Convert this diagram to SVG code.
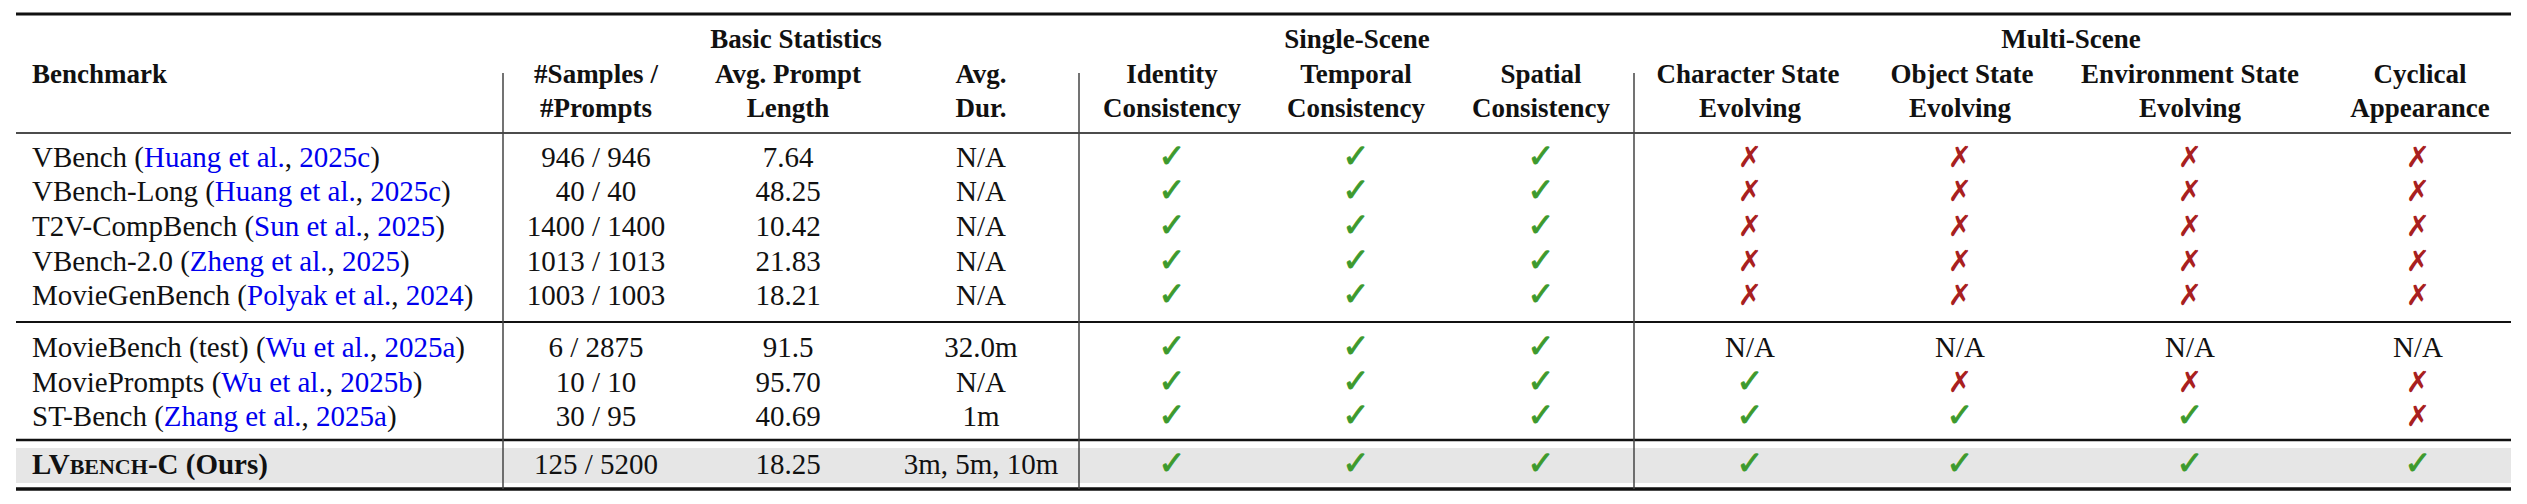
<svg xmlns="http://www.w3.org/2000/svg" width="2527" height="504" viewBox="0 0 2527 504">
<style>
text{font-family:"Liberation Serif","DejaVu Serif",serif;font-size:29px;fill:#111}
.b{font-weight:bold}
.h{font-weight:bold;font-size:27px}
.c{text-anchor:middle}
.l{fill:#0000ee}
.y{font-family:"DejaVu Sans",sans-serif;font-size:32px;font-weight:bold;fill:#3d9a2d;text-anchor:middle;stroke:#3d9a2d;stroke-width:1}
.n{font-family:"DejaVu Sans",sans-serif;font-size:29px;fill:#a82020;text-anchor:middle}
.r{stroke:#111}
.v{stroke:#444;stroke-width:1.5}
</style>
<rect x="16" y="448" width="2495" height="35" fill="#e6e6e6"/>
<g id="rules">
<line class="r" x1="16" y1="14" x2="2511" y2="14" stroke-width="3"/>
<line class="r" x1="16" y1="133" x2="2511" y2="133" stroke-width="1.5"/>
<line class="r" x1="16" y1="322" x2="2511" y2="322" stroke-width="2"/>
<line class="r" x1="16" y1="440" x2="2511" y2="440" stroke-width="2.5"/>
<line class="r" x1="16" y1="489" x2="2511" y2="489" stroke-width="3.5"/>
<line class="v" x1="503" y1="73" x2="503" y2="489"/>
<line class="v" x1="1079" y1="73" x2="1079" y2="489"/>
<line class="v" x1="1634" y1="73" x2="1634" y2="489"/>
</g>
<g id="header">
<text class="h c" x="796" y="48">Basic Statistics</text>
<text class="h c" x="1357" y="48">Single-Scene</text>
<text class="h c" x="2071" y="48">Multi-Scene</text>
<text class="h" x="32" y="83">Benchmark</text>
<text class="h c" x="596" y="83">#Samples /</text><text class="h c" x="596" y="117">#Prompts</text>
<text class="h c" x="788" y="83">Avg. Prompt</text><text class="h c" x="788" y="117">Length</text>
<text class="h c" x="981" y="83">Avg.</text><text class="h c" x="981" y="117">Dur.</text>
<text class="h c" x="1172" y="83">Identity</text><text class="h c" x="1172" y="117">Consistency</text>
<text class="h c" x="1356" y="83">Temporal</text><text class="h c" x="1356" y="117">Consistency</text>
<text class="h c" x="1541" y="83">Spatial</text><text class="h c" x="1541" y="117">Consistency</text>
<text class="h c" x="1748" y="83">Character State</text><text class="h c" x="1750" y="117">Evolving</text>
<text class="h c" x="1962" y="83">Object State</text><text class="h c" x="1960" y="117">Evolving</text>
<text class="h c" x="2190" y="83">Environment State</text><text class="h c" x="2190" y="117">Evolving</text>
<text class="h c" x="2420" y="83">Cyclical</text><text class="h c" x="2420" y="117">Appearance</text>
</g>
<g id="names">
<text x="32" y="167">VBench (<tspan class="l">Huang et al.</tspan>, <tspan class="l">2025c</tspan>)</text>
<text x="32" y="201">VBench-Long (<tspan class="l">Huang et al.</tspan>, <tspan class="l">2025c</tspan>)</text>
<text x="32" y="236">T2V-CompBench (<tspan class="l">Sun et al.</tspan>, <tspan class="l">2025</tspan>)</text>
<text x="32" y="271">VBench-2.0 (<tspan class="l">Zheng et al.</tspan>, <tspan class="l">2025</tspan>)</text>
<text x="32" y="305">MovieGenBench (<tspan class="l">Polyak et al.</tspan>, <tspan class="l">2024</tspan>)</text>
<text x="32" y="357">MovieBench (test) (<tspan class="l">Wu et al.</tspan>, <tspan class="l">2025a</tspan>)</text>
<text x="32" y="392">MoviePrompts (<tspan class="l">Wu et al.</tspan>, <tspan class="l">2025b</tspan>)</text>
<text x="32" y="426">ST-Bench (<tspan class="l">Zhang et al.</tspan>, <tspan class="l">2025a</tspan>)</text>
<text class="b" x="32" y="474">LV<tspan font-size="22">BENCH</tspan>-C (Ours)</text>
</g>
<g id="stats">
<text class="c" x="596" y="167">946 / 946</text><text class="c" x="788" y="167">7.64</text><text class="c" x="981" y="167">N/A</text>
<text class="c" x="596" y="201">40 / 40</text><text class="c" x="788" y="201">48.25</text><text class="c" x="981" y="201">N/A</text>
<text class="c" x="596" y="236">1400 / 1400</text><text class="c" x="788" y="236">10.42</text><text class="c" x="981" y="236">N/A</text>
<text class="c" x="596" y="271">1013 / 1013</text><text class="c" x="788" y="271">21.83</text><text class="c" x="981" y="271">N/A</text>
<text class="c" x="596" y="305">1003 / 1003</text><text class="c" x="788" y="305">18.21</text><text class="c" x="981" y="305">N/A</text>
<text class="c" x="596" y="357">6 / 2875</text><text class="c" x="788" y="357">91.5</text><text class="c" x="981" y="357">32.0m</text>
<text class="c" x="596" y="392">10 / 10</text><text class="c" x="788" y="392">95.70</text><text class="c" x="981" y="392">N/A</text>
<text class="c" x="596" y="426">30 / 95</text><text class="c" x="788" y="426">40.69</text><text class="c" x="981" y="426">1m</text>
<text class="c" x="596" y="474">125 / 5200</text><text class="c" x="788" y="474">18.25</text><text class="c" x="981" y="474">3m, 5m, 10m</text>
</g>
<g id="single">
<text class="y" x="1172" y="167">✓</text><text class="y" x="1356" y="167">✓</text><text class="y" x="1541" y="167">✓</text>
<text class="y" x="1172" y="201">✓</text><text class="y" x="1356" y="201">✓</text><text class="y" x="1541" y="201">✓</text>
<text class="y" x="1172" y="236">✓</text><text class="y" x="1356" y="236">✓</text><text class="y" x="1541" y="236">✓</text>
<text class="y" x="1172" y="271">✓</text><text class="y" x="1356" y="271">✓</text><text class="y" x="1541" y="271">✓</text>
<text class="y" x="1172" y="305">✓</text><text class="y" x="1356" y="305">✓</text><text class="y" x="1541" y="305">✓</text>
<text class="y" x="1172" y="357">✓</text><text class="y" x="1356" y="357">✓</text><text class="y" x="1541" y="357">✓</text>
<text class="y" x="1172" y="392">✓</text><text class="y" x="1356" y="392">✓</text><text class="y" x="1541" y="392">✓</text>
<text class="y" x="1172" y="426">✓</text><text class="y" x="1356" y="426">✓</text><text class="y" x="1541" y="426">✓</text>
<text class="y" x="1172" y="474">✓</text><text class="y" x="1356" y="474">✓</text><text class="y" x="1541" y="474">✓</text>
</g>
<g id="multi">
<text class="n" x="1750" y="167">✗</text><text class="n" x="1960" y="167">✗</text><text class="n" x="2190" y="167">✗</text><text class="n" x="2418" y="167">✗</text>
<text class="n" x="1750" y="201">✗</text><text class="n" x="1960" y="201">✗</text><text class="n" x="2190" y="201">✗</text><text class="n" x="2418" y="201">✗</text>
<text class="n" x="1750" y="236">✗</text><text class="n" x="1960" y="236">✗</text><text class="n" x="2190" y="236">✗</text><text class="n" x="2418" y="236">✗</text>
<text class="n" x="1750" y="271">✗</text><text class="n" x="1960" y="271">✗</text><text class="n" x="2190" y="271">✗</text><text class="n" x="2418" y="271">✗</text>
<text class="n" x="1750" y="305">✗</text><text class="n" x="1960" y="305">✗</text><text class="n" x="2190" y="305">✗</text><text class="n" x="2418" y="305">✗</text>
<text class="c" x="1750" y="357">N/A</text><text class="c" x="1960" y="357">N/A</text><text class="c" x="2190" y="357">N/A</text><text class="c" x="2418" y="357">N/A</text>
<text class="y" x="1750" y="392">✓</text><text class="n" x="1960" y="392">✗</text><text class="n" x="2190" y="392">✗</text><text class="n" x="2418" y="392">✗</text>
<text class="y" x="1750" y="426">✓</text><text class="y" x="1960" y="426">✓</text><text class="y" x="2190" y="426">✓</text><text class="n" x="2418" y="426">✗</text>
<text class="y" x="1750" y="474">✓</text><text class="y" x="1960" y="474">✓</text><text class="y" x="2190" y="474">✓</text><text class="y" x="2418" y="474">✓</text>
</g>
</svg>
